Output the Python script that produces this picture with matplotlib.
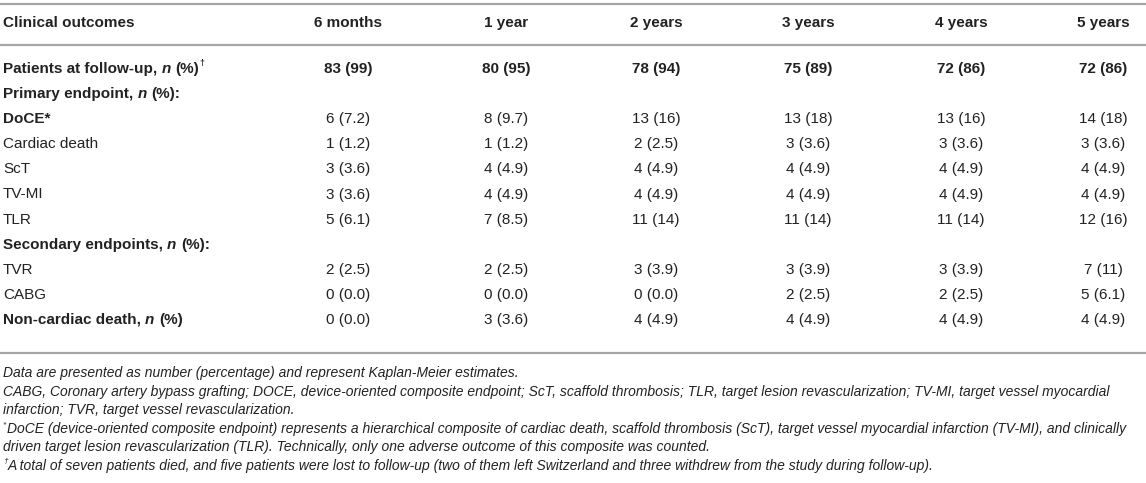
import matplotlib
matplotlib.use("Agg")
import matplotlib.pyplot as plt

plt.rcParams['font.family'] = ['Liberation Sans', 'DejaVu Sans']

periods = ['6 months', '1 year', '2 years', '3 years', '4 years', '5 years']

patients_n = [83, 80, 78, 75, 72, 72]
patients_pct = ['99', '95', '94', '89', '86', '86']

doce_n = [6, 8, 13, 13, 13, 14]
doce_pct = ['7.2', '9.7', '16', '18', '16', '18']
cardiac_n = [1, 1, 2, 3, 3, 3]
cardiac_pct = ['1.2', '1.2', '2.5', '3.6', '3.6', '3.6']
sct_n = [3, 4, 4, 4, 4, 4]
sct_pct = ['3.6', '4.9', '4.9', '4.9', '4.9', '4.9']
tvmi_n = [3, 4, 4, 4, 4, 4]
tvmi_pct = ['3.6', '4.9', '4.9', '4.9', '4.9', '4.9']
tlr_n = [5, 7, 11, 11, 11, 12]
tlr_pct = ['6.1', '8.5', '14', '14', '14', '16']

tvr_n = [2, 2, 3, 3, 3, 7]
tvr_pct = ['2.5', '2.5', '3.9', '3.9', '3.9', '11']
cabg_n = [0, 0, 0, 2, 2, 5]
cabg_pct = ['0.0', '0.0', '0.0', '2.5', '2.5', '6.1']
noncardiac_n = [0, 3, 4, 4, 4, 4]
noncardiac_pct = ['0.0', '3.6', '4.9', '4.9', '4.9', '4.9']

notes = [
    "Data are presented as number (percentage) and represent Kaplan-Meier estimates.",
    "CABG, Coronary artery bypass grafting; DOCE, device-oriented composite endpoint; ScT, scaffold thrombosis; TLR, target lesion revascularization; TV-MI, target vessel myocardial",
    "infarction; TVR, target vessel revascularization.",
    "DoCE (device-oriented composite endpoint) represents a hierarchical composite of cardiac death, scaffold thrombosis (ScT), target vessel myocardial infarction (TV-MI), and clinically",
    "driven target lesion revascularization (TLR). Technically, only one adverse outcome of this composite was counted.",
    "A total of seven patients died, and five patients were lost to follow-up (two of them left Switzerland and three withdrew from the study during follow-up).",
]
note_marks = ['', '', '', '*', '', '\u2020']

# layout (pixels)
W, H = 1146, 483
col_x = [348, 506, 656, 808, 961, 1103]
label_x = 3
row_y0 = 69
row_dy = 25.1
fs = 11
fs_note = 10
txt_col = '#222222'
line_col = '#a6a6a6'

fig = plt.figure(figsize=(W / 100, H / 100), dpi=100)
ax = fig.add_axes([0, 0, 1, 1])
ax.set_xlim(0, W)
ax.set_ylim(H, 0)
ax.axis('off')
renderer = fig.canvas.get_renderer()


def parts_text(x, y, parts, size=fs, gap=4.2):
    # draw a run of differently styled pieces side by side
    for i, (s, weight, style, sup) in enumerate(parts):
        if sup:
            t = ax.text(x + 0.5, y - 5, s, fontsize=size * 0.6, fontweight=weight,
                        fontstyle=style, color=txt_col, va='center', ha='left')
        else:
            t = ax.text(x, y, s, fontsize=size, fontweight=weight,
                        fontstyle=style, color=txt_col, va='center', ha='left')
        bb = t.get_window_extent(renderer=renderer)
        x += bb.width
        if i + 1 < len(parts) and not parts[i + 1][3]:
            x += gap


# rules
ax.plot([0, W], [4, 4], color=line_col, lw=1.6, solid_capstyle='butt')
ax.plot([0, W], [45, 45], color=line_col, lw=1.6, solid_capstyle='butt')
ax.plot([0, W], [353, 353], color=line_col, lw=1.6, solid_capstyle='butt')

# header
ax.text(label_x, 23, 'Clinical outcomes', fontsize=fs, fontweight='bold',
        color=txt_col, va='center', ha='left')
for x, p in zip(col_x, periods):
    ax.text(x, 23, p, fontsize=fs, fontweight='bold', color=txt_col,
            va='center', ha='center')

rows = [
    ([('Patients at follow-up,', 'bold', 'normal', False), ('n', 'bold', 'italic', False),
      ('(%)', 'bold', 'normal', False), ('\u2020', 'bold', 'normal', True)],
     patients_n, patients_pct, 'bold'),
    ([('Primary endpoint,', 'bold', 'normal', False), ('n', 'bold', 'italic', False),
      ('(%):', 'bold', 'normal', False)], None, None, 'bold'),
    ([('DoCE*', 'bold', 'normal', False)], doce_n, doce_pct, 'normal'),
    ([('Cardiac death', 'normal', 'normal', False)], cardiac_n, cardiac_pct, 'normal'),
    ([('ScT', 'normal', 'normal', False)], sct_n, sct_pct, 'normal'),
    ([('TV-MI', 'normal', 'normal', False)], tvmi_n, tvmi_pct, 'normal'),
    ([('TLR', 'normal', 'normal', False)], tlr_n, tlr_pct, 'normal'),
    ([('Secondary endpoints,', 'bold', 'normal', False), ('n', 'bold', 'italic', False),
      ('(%):', 'bold', 'normal', False)], None, None, 'bold'),
    ([('TVR', 'normal', 'normal', False)], tvr_n, tvr_pct, 'normal'),
    ([('CABG', 'normal', 'normal', False)], cabg_n, cabg_pct, 'normal'),
    ([('Non-cardiac death,', 'bold', 'normal', False), ('n', 'bold', 'italic', False),
      ('(%)', 'bold', 'normal', False)], noncardiac_n, noncardiac_pct, 'normal'),
]

for i, (label, ns, pcts, vweight) in enumerate(rows):
    y = row_y0 + i * row_dy
    parts_text(label_x, y, label)
    if ns is None:
        continue
    for x, n, p in zip(col_x, ns, pcts):
        ax.text(x, y, f'{n} ({p})', fontsize=fs, fontweight=vweight,
                color=txt_col, va='center', ha='center')

# footnotes
for i, (note, mark) in enumerate(zip(notes, note_marks)):
    y = 373 + i * 18.6
    x = label_x
    if mark:
        m = ax.text(x, y - 4, mark, fontsize=fs_note * 0.6, fontstyle='italic',
                    color=txt_col, va='center', ha='left')
        x += m.get_window_extent(renderer=renderer).width + 0.5
    ax.text(x, y, note, fontsize=fs_note, fontstyle='italic', color=txt_col,
            va='center', ha='left')

fig.savefig('out.png', dpi=100)
